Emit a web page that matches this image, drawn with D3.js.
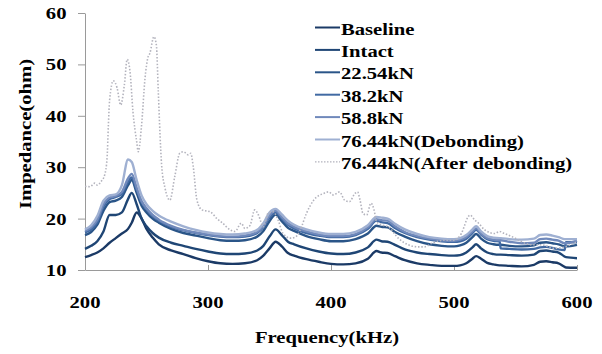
<!DOCTYPE html>
<html><head><meta charset="utf-8">
<script src="https://cdn.jsdelivr.net/npm/d3@7"></script>
<style>
html,body{margin:0;padding:0;background:#fff;}
text{font-family:"Liberation Serif","Times New Roman",serif;font-weight:bold;fill:#000;}
</style></head>
<body><svg id="chart" width="602" height="354"></svg>
<script>
// ---------- DATA ----------
const freq = [200,205,210,215,220,225,230,235,238,242,246,250,255,260,270,280,290,300,310,320,330,340,345,350,355,360,365,370,380,390,400,410,420,430,437,441,446,452,460,470,480,490,500,505,510,515,518,522,527,532,537,538,545,555,565,570,575,580,585,590,591,600];
const baseline = [12.5,12.9,13.4,14.2,15.3,16.2,17.1,18.0,19.2,21.2,20.0,18.0,16.3,15.0,13.8,13.1,12.3,11.7,11.3,11.2,11.3,11.9,12.8,14.2,15.5,14.6,13.3,12.8,12.1,11.6,11.2,11.1,11.3,12.2,13.7,13.4,13.3,12.7,11.9,11.3,11.0,10.8,10.8,10.9,11.3,12.2,12.7,12.2,11.4,11.1,10.9,10.9,10.8,10.7,11.0,11.6,11.7,11.5,11.3,10.6,10.5,10.45];
const intact = [14.1,14.7,15.6,17.5,20.7,20.7,21.2,23.8,25.0,22.8,20.0,18.5,17.2,16.3,15.3,14.7,14.1,13.6,13.2,13.1,13.2,13.8,14.7,16.5,17.9,16.8,15.5,15.0,14.2,13.6,13.2,13.1,13.4,14.4,15.9,15.6,15.5,14.9,14.0,13.4,13.1,12.9,12.8,12.9,13.4,14.4,15.0,14.2,13.4,13.1,13.0,13.0,12.9,12.8,13.0,13.7,13.8,13.6,13.4,12.6,12.5,12.3];
const kn2254 = [16.8,17.4,18.8,21.5,23.2,23.5,24.2,26.5,27.5,25.0,22.5,21.2,20.0,19.2,18.0,17.2,16.7,16.2,15.8,15.7,15.8,16.5,17.6,19.5,20.8,19.5,18.2,17.6,16.6,16.0,15.6,15.6,16.0,17.1,18.6,18.4,18.3,17.4,16.5,15.6,15.0,14.7,14.6,14.8,15.3,16.4,17.0,16.1,15.3,15.0,14.9,14.9,14.7,14.6,14.8,15.3,15.4,15.2,15.0,14.6,14.6,14.9];
const kn382 = [17.3,17.9,19.3,22.3,23.8,24.2,24.8,27.2,28.0,25.6,23.2,21.8,20.5,19.6,18.4,17.7,17.2,16.8,16.5,16.4,16.5,17.2,18.3,20.2,21.2,20.0,18.8,18.1,17.2,16.7,16.4,16.4,16.8,18.0,19.6,19.3,19.1,18.2,17.2,16.4,15.9,15.6,15.5,15.6,16.1,17.2,17.8,16.9,16.0,15.7,15.6,14.2,14.1,14.0,14.1,14.4,14.5,14.3,14.0,13.9,15.4,15.4];
const kn588 = [17.6,18.3,19.8,22.8,24.1,24.4,25.2,27.8,28.7,26.0,23.4,22.0,20.7,19.8,18.6,17.8,17.3,16.9,16.6,16.5,16.7,17.4,18.6,20.6,21.5,20.3,19.1,18.4,17.5,16.9,16.6,16.6,17.0,18.3,19.9,19.7,19.6,18.5,17.4,16.6,16.1,15.8,15.7,15.9,16.4,17.5,18.1,17.1,16.2,15.9,15.8,15.8,15.5,15.2,15.3,16.0,16.1,15.9,15.7,15.2,15.2,15.7];
const kn7644deb = [17.9,18.7,20.5,23.5,24.5,24.7,26.5,31.5,31.0,27.5,24.5,22.8,21.5,20.6,19.4,18.5,17.8,17.3,17.0,16.9,17.1,17.8,19.1,21.2,21.9,20.8,19.6,18.8,17.9,17.3,17.0,17.0,17.4,18.7,20.3,20.2,20.0,19.0,17.9,17.0,16.4,16.1,16.0,16.2,16.8,17.9,18.5,17.5,16.6,16.3,16.2,16.2,16.0,15.9,16.1,16.8,16.9,16.7,16.4,16.0,16.0,16.0];
const freqAfter = [200,204,208,210,213,216,218,219,220,223,226,229,232,234.3,236.6,239,242,243.3,246,248.8,251,252.8,256,258,259.6,261,262.3,265,269,273,277,280,284,286,288,291,295,302,307,312,318,322,327,330,334,338,341,345,349,353,357,361,367,371,375,380,386,394,398,402,407,411,415,419.5,421.6,423.6,426,429,432.5,435,437,441,446.6,454.7,462.8,471,476,482,492.7,500,506,511.6,513,517,520,525,533,537,541,549.6,555,563,571,582,590,600];
const kn7644after = [26.3,26.2,26.9,26.5,27.2,28.5,32,38.2,43,46.8,45.5,42.1,46,51,48.6,40.8,35,33,38.2,47.3,51.2,52.2,55.4,53.8,44.7,36.3,30.4,26,23.6,28.2,32.7,33,32.4,32.7,30.1,23.6,21.7,21.3,20.05,19.1,17.8,17.5,19.1,18.1,18.6,21.7,20.7,18.4,21.1,21.3,19.7,17.1,16.2,16.4,17.8,21,23.6,24.9,25.2,24.6,25.2,23.6,23.3,24.9,25.2,23.6,21,20.7,23,21.7,19.4,18.8,18.4,16.2,14.9,14.5,14.5,15.2,15.8,15.8,17.1,20.4,20.7,19.7,19.1,17.8,17.1,17.5,17.1,16.2,15.5,14.9,14.9,14.2,14.5,15.5];
const seriesNames = ["Baseline","Intact","22.54kN","38.2kN","58.8kN","76.44kN(Debonding)","76.44kN(After debonding)"];
const xTicks = [200,300,400,500,600];
const yTicks = [10,20,30,40,50,60];

// ---------- STYLE ----------
const colors = ["#1b3a66","#1f4675","#2a5588","#416aa3","#7089bb","#9fb0d2","#b3b3bd"];
const series = [
  {name:seriesNames[0], x:freq, y:baseline},
  {name:seriesNames[1], x:freq, y:intact},
  {name:seriesNames[2], x:freq, y:kn2254},
  {name:seriesNames[3], x:freq, y:kn382},
  {name:seriesNames[4], x:freq, y:kn588},
  {name:seriesNames[5], x:freq, y:kn7644deb},
  {name:seriesNames[6], x:freqAfter, y:kn7644after, dotted:true}
];

const svg = d3.select("#chart");
const SX = 1.18, FS = 17.5;
const x = d3.scaleLinear().domain([200,600]).range([85,577]);
const y = d3.scaleLinear().domain([10,60]).range([270,13]);

// axes
const axisColor = "#9a9a9a";
const gx = svg.append("g").attr("transform","translate(0,270)")
  .call(d3.axisBottom(x).tickValues(xTicks).tickSizeInner(-5).tickSizeOuter(0).tickFormat(""));
const gy = svg.append("g").attr("transform","translate(85,0)")
  .call(d3.axisLeft(y).tickValues(yTicks).tickSizeInner(7).tickSizeOuter(0).tickFormat(""));
[gx,gy].forEach(g=>{g.selectAll("path,line").attr("stroke",axisColor).attr("stroke-width",1);});

// tick labels
xTicks.forEach(t=>{
  svg.append("text").attr("transform",`translate(${x(t)},307.5) scale(${SX},1)`)
    .attr("text-anchor","middle").attr("font-size",FS).text(t);
});
yTicks.forEach(t=>{
  svg.append("text").attr("transform",`translate(66.5,${y(t)+6}) scale(${SX},1)`)
    .attr("text-anchor","end").attr("font-size",FS).text(t);
});
// axis titles
svg.append("text").attr("transform",`translate(327,343) scale(${SX},1)`)
  .attr("text-anchor","middle").attr("font-size",FS).text("Frequency(kHz)");
svg.append("text").attr("transform",`translate(31,134) rotate(-90) scale(${SX},1)`)
  .attr("text-anchor","middle").attr("font-size",FS).text("Impedance(ohm)");

// lines
const line = d3.line().curve(d3.curveMonotoneX);
series.forEach((s,i)=>{
  const pts = s.x.map((f,j)=>[x(f),y(s.y[j])]);
  const p = svg.append("path").attr("d",line(pts)).attr("fill","none")
    .attr("stroke",colors[i]);
  if(s.dotted){ p.attr("stroke-width",1.6).attr("stroke-dasharray","1.5,1.8"); }
  else { p.attr("stroke-width",2.4).attr("stroke-linejoin","round"); }
});

// legend
series.forEach((s,i)=>{
  const cy = 28.5 + 22.4*i;
  const l = svg.append("line").attr("x1",315).attr("x2",340).attr("y1",cy-1).attr("y2",cy-1)
    .attr("stroke",colors[i]);
  if(s.dotted) l.attr("stroke-width",1.3).attr("stroke-dasharray","1.5,1.5");
  else l.attr("stroke-width",2);
  svg.append("text").attr("transform",`translate(341,${cy+6}) scale(${SX},1)`)
    .attr("font-size",FS).text(s.name);
});
</script></body></html>
